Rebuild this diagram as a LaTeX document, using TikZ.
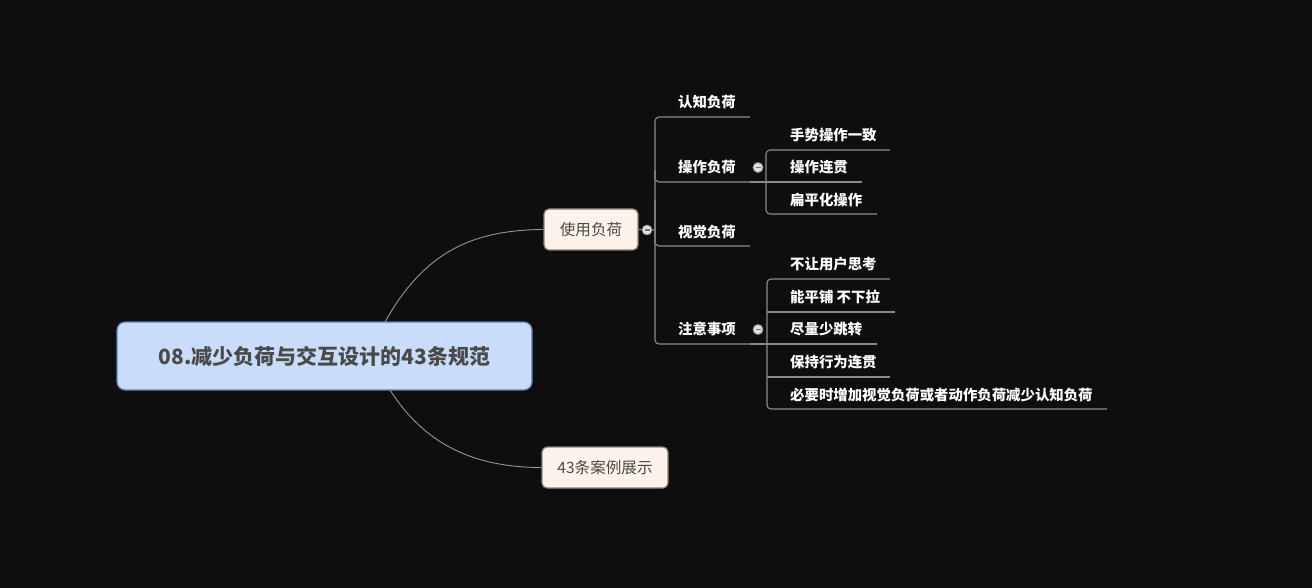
\documentclass[tikz,border=0pt]{standalone}
\usepackage{fontspec}
\newfontfamily\cjk{Noto Sans CJK SC}
\definecolor{bg}{HTML}{0E0E0E}
\definecolor{ln}{HTML}{8A8A8A}
\definecolor{rootfill}{HTML}{C9DDFB}
\definecolor{rootdraw}{HTML}{5B7BB0}
\definecolor{boxfill}{HTML}{FDF3EA}
\definecolor{boxdraw}{HTML}{8C8278}
\definecolor{txtdark}{HTML}{4A4A4A}
\begin{document}
\begin{tikzpicture}[x=1pt,y=-1pt,
  rootbox/.style={draw=rootdraw,fill=rootfill,line width=1.2pt,rounded corners=8pt,minimum width=415pt,minimum height=68pt,inner sep=0pt,font=\cjk\fontsize{21}{24}\selectfont\bfseries,text=txtdark},
  subbox/.style={draw=boxdraw,fill=boxfill,line width=1.2pt,rounded corners=5pt,minimum height=41pt,inner sep=0pt,font=\cjk\fontsize{15.6}{18}\selectfont,text=txtdark},
  leaf/.style={anchor=west,inner sep=0pt,text=white,font=\cjk\fontsize{14.4}{17}\selectfont\bfseries},
  conn/.style={draw=ln,line width=1.1pt},
  curve/.style={draw=ln!90,line width=0.9pt},
  knob/.style={circle,draw=ln,fill=white!88!black,line width=0.8pt,minimum size=10pt,inner sep=0pt,
    path picture={\draw[black!55,line width=1.2pt] ([xshift=-2.5pt]path picture bounding box.center) -- ([xshift=2.5pt]path picture bounding box.center);}}]
\fill[bg] (0,0) rectangle (1312,588);
\useasboundingbox (0,0) rectangle (1312,588);

% main nodes
\node[rootbox] (root) at (324.5,356) {08.减少负荷与交互设计的43条规范};
\node[subbox,minimum width=94pt] (use) at (591,229.5) {使用负荷};
\node[subbox,minimum width=126pt] (cases) at (605,467.5) {43条案例展示};

% curves from root
\coordinate (rt) at (385,322);
\coordinate (rb) at (390,390);
\draw[curve] (rt) .. controls (425,250) and (475,230) .. (use.west);
\draw[curve] (rb) .. controls (425,445) and (475,467.5) .. (cases.west);

% level-2 texts
\node[leaf] (a1) at (678,102) {认知负荷};
\node[leaf] (a2) at (678,167) {操作负荷};
\node[leaf] (a3) at (678,232) {视觉负荷};
\node[leaf] (a4) at (678,329) {注意事项};

% level-3 texts
\node[leaf] (b1) at (790,135) {手势操作一致};
\node[leaf] (b2) at (790,167) {操作连贯};
\node[leaf] (b3) at (790,200) {扁平化操作};
\node[leaf] (c1) at (790,264) {不让用户思考};
\node[leaf] (c2) at (790,297) {能平铺 不下拉};
\node[leaf] (c3) at (790,329) {尽量少跳转};
\node[leaf] (c4) at (790,362) {保持行为连贯};
\node[leaf] (c5) at (790,395) {必要时增加视觉负荷或者动作负荷减少认知负荷};

% level-2 connectors
\coordinate (v1) at (655,230);
\draw[conn] (use.east) -- (v1);
\draw[conn,rounded corners=4pt] (750,117) -- (655,117) -- (655,344) -- (750,344);
\draw[conn,rounded corners=4pt] (655,170) |- (750,182);
\draw[conn,rounded corners=4pt] (655,200) |- (750,246);

% level-3 connectors (操作负荷)
\draw[conn] (750,182) -- (862,182);
\draw[conn,rounded corners=4pt] (890,150) -- (766,150) -- (766,214) -- (877,214);

% level-3 connectors (注意事项)
\draw[conn] (750,344) -- (877,344);
\draw[conn,rounded corners=4pt] (890,279) -- (767,279) -- (767,409) -- (1107,409);
\draw[conn] (767,312) -- (895,312);
\draw[conn] (767,377) -- (890,377);

% collapse knobs
\node[knob] (k1) at (647,230) {};
\node[knob] (k2) at (758,167.5) {};
\node[knob] (k3) at (758,329.5) {};
\end{tikzpicture}
\end{document}
